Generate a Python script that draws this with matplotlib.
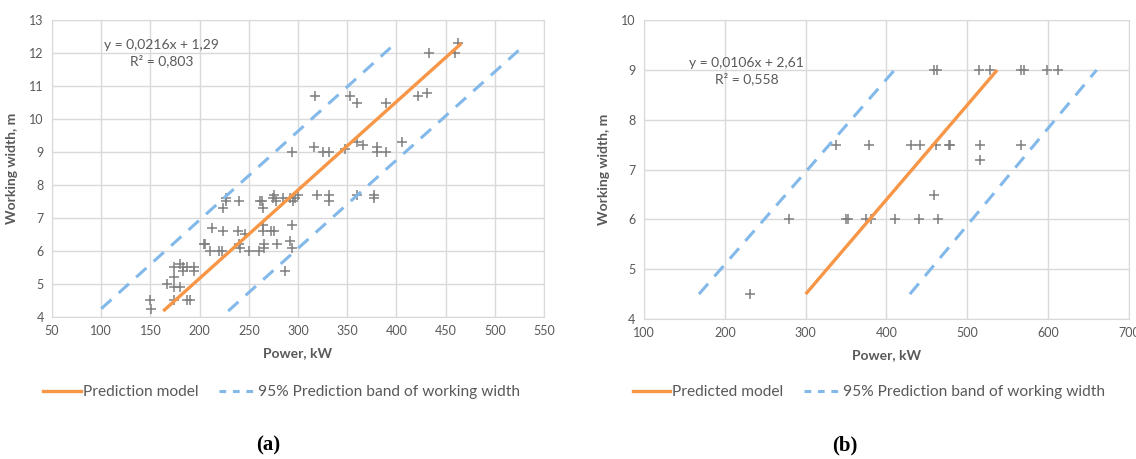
import matplotlib.pyplot as plt
from matplotlib.lines import Line2D

plt.rcParams['font.family'] = ['Lato', 'DejaVu Sans']

# (a) measured points
a_power = [150, 151, 167, 174, 174, 174, 174, 180, 180, 183, 183, 187, 190, 187, 194, 194,
           204, 205, 211, 213, 220, 223, 224, 224, 227, 227, 240, 239, 240, 241, 246, 250,
           260, 261, 263, 264, 264, 264, 265, 265, 273, 276, 279, 275, 276, 278, 285,
           292, 295, 297, 300, 294, 292, 294, 287, 319, 331, 331, 360, 377, 377,
           463, 460, 433, 317, 353, 360, 389, 422, 431,
           294, 316, 325, 331, 348, 360, 366, 380, 380, 389, 406]
a_width = [4.5, 4.25, 5.0, 4.5, 4.9, 5.2, 5.5, 4.9, 5.6, 5.5, 5.4, 4.5, 4.5, 5.5, 5.5, 5.4,
           6.2, 6.2, 6.0, 6.7, 6.0, 6.0, 6.6, 7.3, 7.5, 7.6, 7.5, 6.6, 6.2, 6.1, 6.5, 6.0,
           6.0, 7.5, 7.5, 7.3, 6.8, 6.6, 6.2, 6.1, 6.6, 6.6, 6.2, 7.6, 7.7, 7.5, 7.6,
           7.6, 7.5, 7.6, 7.7, 6.8, 6.3, 6.1, 5.4, 7.7, 7.7, 7.5, 7.7, 7.7, 7.6,
           12.3, 12.0, 12.0, 10.7, 10.7, 10.5, 10.5, 10.7, 10.8,
           9.0, 9.15, 9.0, 9.0, 9.1, 9.3, 9.2, 9.15, 9.0, 9.0, 9.3]
a_model_x = [163, 466]
a_model_y = [4.18, 12.29]
a_upper_x = [100, 394]
a_upper_y = [4.25, 12.16]
a_lower_x = [229, 525]
a_lower_y = [4.18, 12.1]

# (b) measured points
b_power = [231, 280, 350, 353, 375, 381, 410, 440, 464,
           337, 378, 430, 441, 461, 477, 479, 516, 516, 567, 459,
           459, 462, 515, 528, 567, 570, 599, 612]
b_width = [4.5, 6.0, 6.0, 6.0, 6.0, 6.0, 6.0, 6.0, 6.0,
           7.5, 7.5, 7.5, 7.5, 7.5, 7.5, 7.5, 7.5, 7.2, 7.5, 6.5,
           9.0, 9.0, 9.0, 9.0, 9.0, 9.0, 9.0, 9.0]
b_model_x = [300, 537]
b_model_y = [4.5, 9.0]
b_upper_x = [168, 410]
b_upper_y = [4.5, 9.0]
b_lower_x = [429, 660]
b_lower_y = [4.5, 9.0]

ORANGE = '#f79646'
BLUE = '#82b9ea'
GRID = '#d9d9d9'
TXT = '#595959'


def panel(ax, px, py, mx, my, ux, uy, lx, ly, xlim, xstep, ylim, eq, eqpos):
    ax.plot(px, py, ls='none', marker='+', ms=6.5, mew=1.1, color='#7f7f7f', zorder=3)
    ax.plot(mx, my, color=ORANGE, lw=2.4, solid_capstyle='butt', zorder=4)
    for xs, ys in [(ux, uy), (lx, ly)]:
        ax.plot(xs, ys, color=BLUE, lw=2.2, dashes=(4.5, 3.2), zorder=4)
    ax.set_xlim(*xlim)
    ax.set_ylim(*ylim)
    ax.set_xticks(range(xlim[0], xlim[1] + 1, xstep))
    ax.set_yticks(range(ylim[0], ylim[1] + 1))
    ax.grid(True, color=GRID, lw=1)
    ax.set_axisbelow(True)
    for s in ax.spines.values():
        s.set_color(GRID)
    ax.tick_params(length=0, colors=TXT, labelsize=9, pad=6)
    ax.set_xlabel('Power, kW', color=TXT, fontsize=10, fontweight='bold', labelpad=7)
    ax.set_ylabel('Working width, m', color=TXT, fontsize=10, fontweight='bold', labelpad=8)
    ax.text(eqpos[0], eqpos[1], eq, ha='center', va='center', color=TXT, fontsize=10,
            linespacing=1.35)


fig = plt.figure(figsize=(11.36, 4.59), dpi=100)
ax1 = fig.add_axes([0.0458, 0.3094, 0.4331, 0.647])
ax2 = fig.add_axes([0.5669, 0.305, 0.4269, 0.651])

panel(ax1, a_power, a_width, a_model_x, a_model_y, a_upper_x, a_upper_y,
      a_lower_x, a_lower_y, (50, 550), 50, (4, 13),
      'y = 0,0216x + 1,29\nR² = 0,803', (161, 12.0))
panel(ax2, b_power, b_width, b_model_x, b_model_y, b_upper_x, b_upper_y,
      b_lower_x, b_lower_y, (100, 700), 100, (4, 10),
      'y = 0,0106x + 2,61\nR² = 0,558', (227, 8.98))

handles = [Line2D([], [], color=ORANGE, lw=2.4),
           Line2D([], [], color=BLUE, lw=2.2, dashes=(2.2, 2.2))]
for lbl, cx in [('Prediction model', 0.248), ('Predicted model', 0.765)]:
    fig.legend(handles, [lbl, '95% Prediction band of working width'],
               loc='center', bbox_to_anchor=(cx, 0.146), ncol=2, frameon=False,
               fontsize=11.2, labelcolor=TXT, handlelength=2.4, handletextpad=0.15,
               columnspacing=1.3)

for lbl, cx in [('(a)', 0.236), ('(b)', 0.744)]:
    fig.text(cx, 0.03, lbl, ha='center', va='center', fontsize=15,
             fontweight='bold', family=['Liberation Serif', 'DejaVu Serif'])

fig.savefig('out.png', dpi=100)
